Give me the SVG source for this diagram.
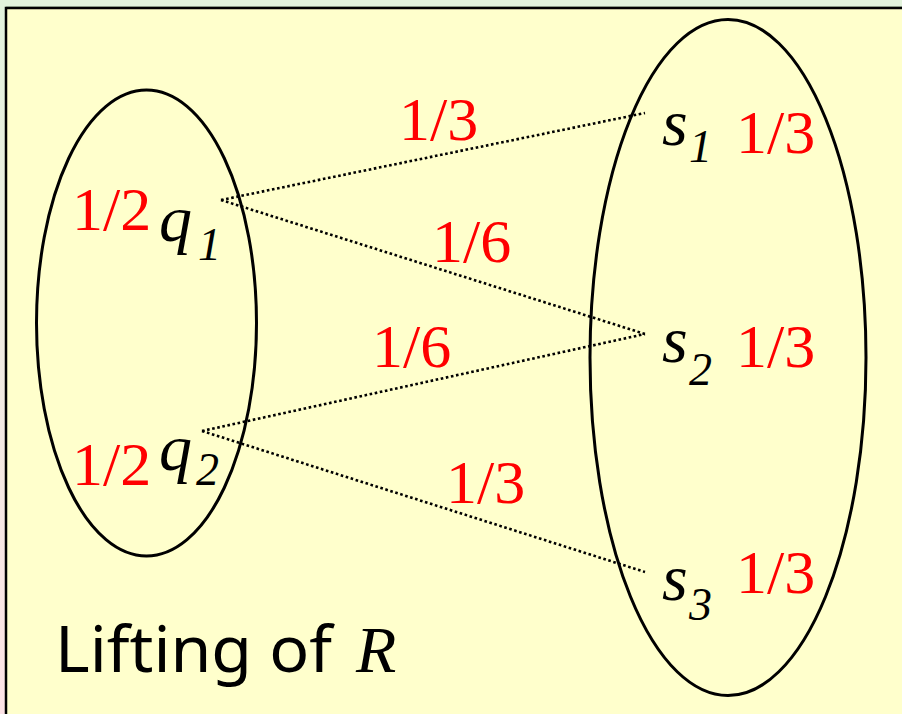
<svg xmlns="http://www.w3.org/2000/svg" width="902" height="714" viewBox="0 0 902 714">
  <defs>
    <linearGradient id="bg" x1="0" y1="0" x2="0" y2="1">
      <stop offset="0" stop-color="#e2f3dc"/>
      <stop offset="1" stop-color="#fde3e6"/>
    </linearGradient>
  </defs>
  <style>
    .set { fill: none; stroke: #000; stroke-width: 3; }
    .edge { fill: none; stroke: #000; stroke-width: 2.6; stroke-dasharray: 2.6 2.6; }
    .num { font-family: 'Liberation Serif', 'Times New Roman', serif; font-size: 62px; fill: #ff0000; }
    .var { font-family: 'Liberation Serif', 'Times New Roman', serif; font-style: italic; font-size: 66px; fill: #000; }
    .sub { font-family: 'Liberation Serif', 'Times New Roman', serif; font-style: italic; font-size: 46px; fill: #000; }
    .cap { font-family: 'Noto Sans', 'DejaVu Sans', sans-serif; font-size: 64px; fill: #000; }
    .capR { font-family: 'Liberation Serif', 'Times New Roman', serif; font-style: italic; font-size: 66px; fill: #000; }
  </style>
  <rect x="0" y="0" width="902" height="714" fill="url(#bg)"/>
  <rect x="0" y="0" width="902" height="8" fill="#e2f3dc"/>
  <rect x="6" y="8" width="920" height="720" fill="#ffffcc" stroke="#000" stroke-width="2.5"/>
  <line x1="6" y1="6.5" x2="902" y2="6.5" stroke="#8a9a86" stroke-width="1.2"/>

  <g id="connectors">
    <line class="edge" x1="221" y1="200" x2="645" y2="113"/>
    <line class="edge" x1="221" y1="200" x2="645" y2="334"/>
    <line class="edge" x1="202" y1="431" x2="645" y2="334"/>
    <line class="edge" x1="202" y1="431" x2="645" y2="572"/>
    <text class="num" x="399" y="140">1/3</text>
    <text class="num" x="432" y="262">1/6</text>
    <text class="num" x="372" y="367">1/6</text>
    <text class="num" x="446" y="503">1/3</text>
  </g>

  <g id="setQ">
    <ellipse class="set" cx="146.5" cy="323" rx="110" ry="233"/>
  </g>
  <g id="setS">
    <ellipse class="set" cx="728" cy="357.5" rx="138" ry="338"/>
  </g>

  <g id="q1">
    <text class="num" x="72" y="230">1/2</text>
    <text class="var" x="159" y="241">q</text>
    <text class="sub" x="198" y="260">1</text>
  </g>
  <g id="q2">
    <text class="num" x="72" y="485">1/2</text>
    <text class="var" x="159" y="470">q</text>
    <text class="sub" x="196" y="485">2</text>
  </g>
  <g id="s1">
    <text class="var" x="662" y="145">s</text>
    <text class="sub" x="689" y="162">1</text>
    <text class="num" x="736" y="153">1/3</text>
  </g>
  <g id="s2">
    <text class="var" x="662" y="362">s</text>
    <text class="sub" x="689" y="385">2</text>
    <text class="num" x="736" y="367">1/3</text>
  </g>
  <g id="s3">
    <text class="var" x="662" y="600">s</text>
    <text class="sub" x="689" y="620">3</text>
    <text class="num" x="736" y="593">1/3</text>
  </g>

  <g id="caption">
    <text class="cap" x="55" y="672" textLength="277" lengthAdjust="spacingAndGlyphs">Lifting of</text>
    <text class="capR" x="356" y="672">R</text>
  </g>
</svg>
